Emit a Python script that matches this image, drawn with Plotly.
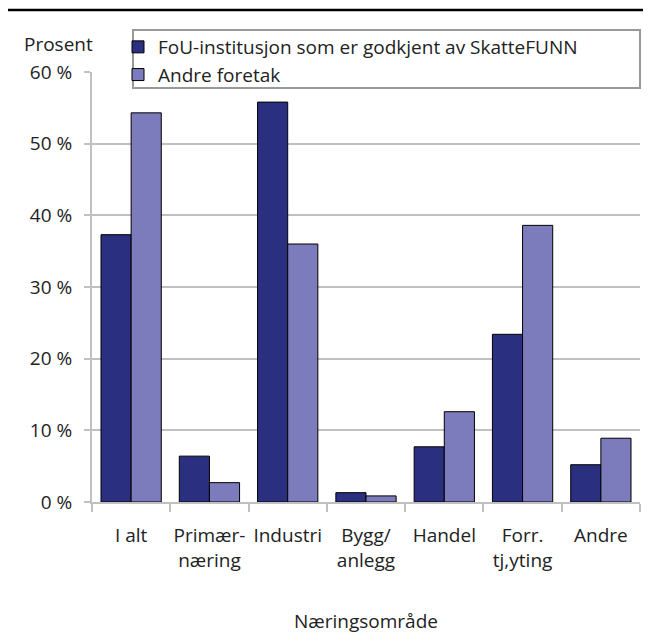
import plotly.graph_objects as go

categories = ["I alt", "Primær-<br>næring", "Industri", "Bygg/<br>anlegg", "Handel", "Forr.<br>tj,yting", "Andre"]
fou_values = [37.3, 6.4, 55.8, 1.3, 7.7, 23.4, 5.2]
andre_values = [54.3, 2.7, 36.0, 0.85, 12.6, 38.6, 8.9]
y_ticks = [0, 10, 20, 30, 40, 50, 60]
y_tick_labels = ["0 %", "10 %", "20 %", "30 %", "40 %", "50 %", "60 %"]

font = "Open Sans"
grey = "#c0c0c0"
fs = 19

# page body has an 8px margin, so work in page pixels and shift
OFF = 8
W, H = 651 - OFF, 634 - OFF
# plot area on the page: x 92..640, y 72..502
L, R, T, B = 92 - OFF, 651 - 640, 72 - OFF, 634 - 502
pw, ph = W - L - R, H - T - B

def px_x(x):
    return (x - OFF - L) / pw

def px_y(y):
    return (H - B - (y - OFF)) / ph

fig = go.Figure()
fig.add_trace(go.Bar(x=categories, y=fou_values, name="FoU-institusjon som er godkjent av SkatteFUNN",
                     marker=dict(color="#2b2f7f", line=dict(color="black", width=1))))
fig.add_trace(go.Bar(x=categories, y=andre_values, name="Andre foretak",
                     marker=dict(color="#7c7bbb", line=dict(color="black", width=1))))

fig.update_layout(
    width=W, height=H,
    margin=dict(l=L, r=R, t=T, b=B, autoexpand=False),
    plot_bgcolor="white", paper_bgcolor="white",
    barmode="group", bargap=0.23, bargroupgap=0,
    font=dict(family=font, size=fs, color="#222"),
    legend=dict(x=px_x(118), y=px_y(28), xanchor="left", yanchor="top",
                bgcolor="rgba(0,0,0,0)", borderwidth=0, font=dict(size=fs),
                tracegroupgap=0, itemwidth=30),
    xaxis=dict(showline=True, linecolor=grey, linewidth=2, ticks="outside",
               tickson="boundaries", ticklen=8, tickcolor=grey, tickwidth=2,
               showgrid=False, tickfont=dict(size=fs), ticklabelstandoff=15,
               tickangle=0, automargin=False,
               title=dict(text="Næringsområde", font=dict(size=fs), standoff=44)),
    yaxis=dict(range=[0, 60], tickvals=y_ticks, ticktext=y_tick_labels,
               showline=True, linecolor=grey, linewidth=2, ticks="outside",
               ticklen=6, tickcolor=grey, tickwidth=2, showgrid=True,
               gridcolor=grey, gridwidth=2, zeroline=False, tickfont=dict(size=fs),
               ticklabelstandoff=8, automargin=False),
    shapes=[
        dict(type="rect", xref="paper", yref="paper", x0=px_x(133), x1=px_x(640),
             y0=px_y(88), y1=px_y(30), fillcolor="white", line=dict(color="#999", width=2),
             layer="above"),
        dict(type="line", xref="paper", yref="paper", x0=px_x(OFF), x1=px_x(651),
             y0=px_y(10), y1=px_y(10), line=dict(color="black", width=2.5)),
    ],
    annotations=[
        dict(text="Prosent", xref="paper", yref="paper", x=px_x(22), y=px_y(44),
             xanchor="left", yanchor="middle", showarrow=False, font=dict(size=fs)),
    ],
)

fig.write_html("out.html")
